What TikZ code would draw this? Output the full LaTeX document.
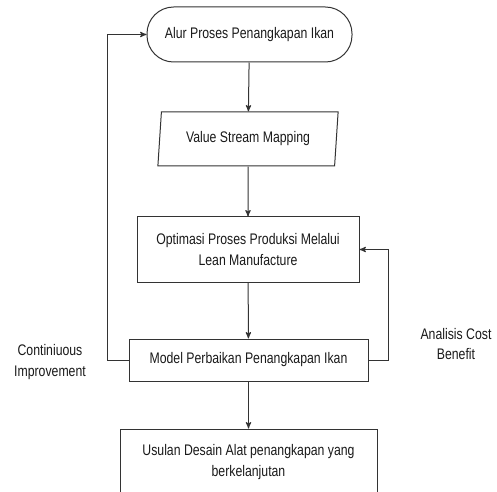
\documentclass[tikz,border=0pt]{standalone}
\usepackage{fontspec}
\setmainfont{Liberation Sans}[FakeStretch=0.8]
\usepackage{tikz}
\usetikzlibrary{arrows}
\usetikzlibrary{shapes.geometric}
\begin{document}
\begin{tikzpicture}[%
    x=0.75pt, y=-0.75pt,
    every node/.style={
      text=black!90,
      font=\fontsize{11.5}{15.5}\selectfont
    },
    block/.style={
      rectangle,
      draw=black!80,
      line width=0.75pt,
      align=center,
      inner sep=0pt
    },
    terminal/.style={
      block,
      rounded corners=20pt
    },
    iobox/.style={
      trapezium,
      trapezium stretches=true,
      trapezium left angle=80,
      trapezium right angle=100,
      draw=black!80,
      line width=0.75pt,
      inner sep=0pt
    },
    note/.style={align=center},
    line/.style={draw=black!80, line width=0.75pt},
    >=stealth'
    ]
    \clip (0,0) rectangle (497,492);

    \draw (249.5,34.5) node[terminal, minimum width=153.75pt, minimum height=41.25pt] (alur) {Alur Proses Penangkapan Ikan};
    \draw (248,139) node[iobox, minimum width=135.75pt, minimum height=40.5pt] (vsm) {Value Stream Mapping};
    \draw (248,249.5) node[block, minimum width=166.5pt, minimum height=48.75pt] (optimasi) {Optimasi Proses Produksi Melalui\\Lean Manufacture};
    \draw (248.5,360) node[block, minimum width=179.25pt, minimum height=31.5pt] (model) {Model Perbaikan Penangkapan Ikan};
    \draw (248.5,462) node[block, minimum width=192.75pt, minimum height=49.5pt] (usulan) {Usulan Desain Alat penangkapan yang\\berkelanjutan};

    \draw (50,362) node[note] (ci) {Continiuous\\Improvement};
    \draw (456,344) node[note] (acb) {Analisis Cost\\Benefit};

    \draw [line, ->] (alur) -- (vsm);
    \draw [line, ->] (vsm) -- (optimasi);
    \draw [line, ->] (optimasi) -- (model);
    \draw [line, ->] (model) -- (usulan);

    % feedback loops
    \coordinate (kiri) at (107,360);
    \coordinate (kanan) at (388,360);
    \draw [line, ->] (model.west) -- (kiri) |- (alur.west);
    \draw [line, ->] (model.east) -- (kanan) |- (optimasi.east);
  \end{tikzpicture}
\end{document}
